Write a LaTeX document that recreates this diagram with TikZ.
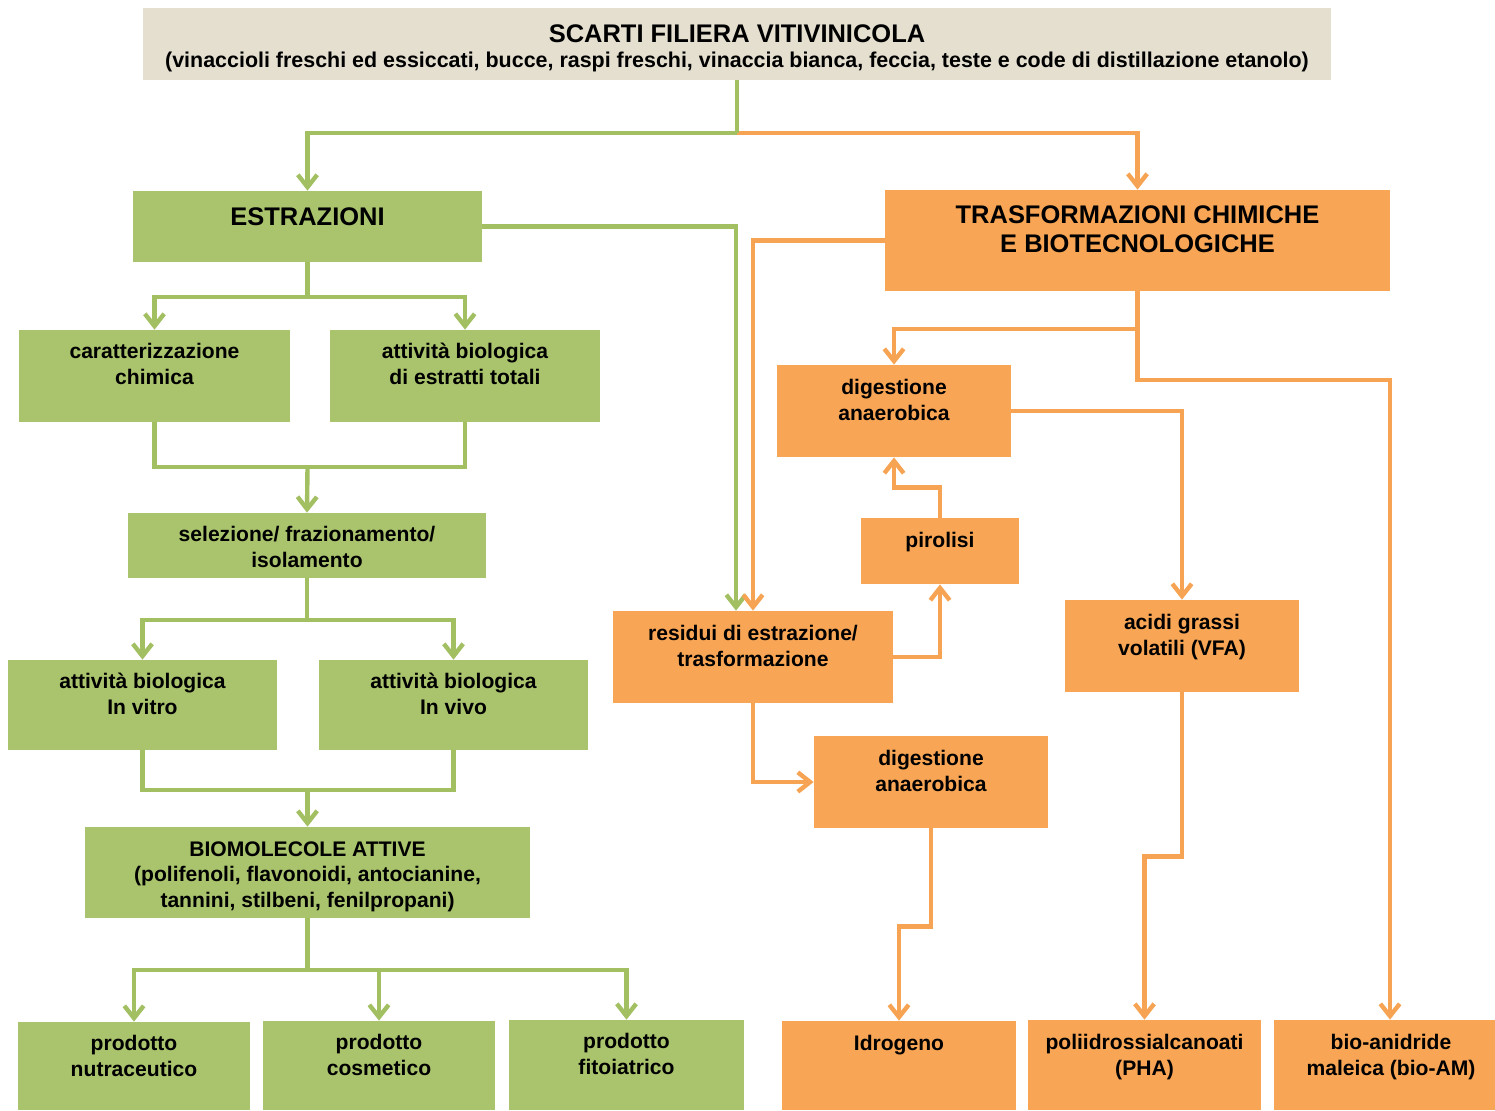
\documentclass[tikz,border=0pt]{standalone}
\usepackage{fontspec}
\setmainfont{Liberation Sans}
\usetikzlibrary{arrows.meta,fit,calc}
\definecolor{gfill}{HTML}{A9C46C}
\definecolor{ofill}{HTML}{F8A655}
\definecolor{bfill}{HTML}{E4DFCF}
\definecolor{gln}{HTML}{A2BF62}
\definecolor{oln}{HTML}{F6A453}
\tikzset{
  gbox/.style={fill=gfill, draw=none, inner sep=0pt},
  obox/.style={fill=ofill, draw=none, inner sep=0pt},
  bbox/.style={fill=bfill, draw=none, inner sep=0pt},
  txt/.style={anchor=north, align=center, inner sep=0pt, font=\bfseries\fontsize{12}{14.7}\selectfont, execute at begin node=\strut},
  htxt/.style={anchor=north, align=center, inner sep=0pt, font=\bfseries\fontsize{14.5}{16.6}\selectfont, execute at begin node=\strut},
  conn/.style={line width=2.5pt, miter limit=10, line join=miter},
  gline/.style={conn, draw=gln},
  oline/.style={conn, draw=oln},
  arr/.style={-{Straight Barb[length=7pt,width=11pt]}}
}
\begin{document}
\begin{tikzpicture}[x=0.02cm,y=-0.02cm]
\useasboundingbox (0,0) rectangle (1495,1110);
% boxes
\node[bbox, fit={(143,8) (1331,80)}] (top) {};
\node[gbox, fit={(133,191) (482,262)}] (estr) {};
\node[obox, fit={(885,190) (1390,291)}] (trasf) {};
\node[gbox, fit={(19,330) (290,422)}] (car) {};
\node[gbox, fit={(330,330) (600,422)}] (att) {};
\node[gbox, fit={(128,513) (486,578)}] (sel) {};
\node[gbox, fit={(8,660) (277,750)}] (vitro) {};
\node[gbox, fit={(319,660) (588,750)}] (vivo) {};
\node[gbox, fit={(85,827) (530,918)}] (bio) {};
\node[gbox, fit={(18,1022) (250,1110)}] (nut) {};
\node[gbox, fit={(263,1021) (495,1110)}] (cos) {};
\node[gbox, fit={(509,1020) (744,1110)}] (fit) {};
\node[obox, fit={(777,365) (1011,457)}] (dig1) {};
\node[obox, fit={(861,518) (1019,584)}] (pir) {};
\node[obox, fit={(613,611) (893,703)}] (res) {};
\node[obox, fit={(814,736) (1048,828)}] (dig2) {};
\node[obox, fit={(1065,600) (1299,692)}] (acidi) {};
\node[obox, fit={(782,1021) (1016,1110)}] (idro) {};
\node[obox, fit={(1028,1020) (1261,1110)}] (pha) {};
\node[obox, fit={(1274,1020) (1495,1110)}] (bioam) {};
% texts
\node[anchor=base, inner sep=0pt, font=\bfseries\fontsize{14.5}{16.4}\selectfont] (top-t1) at (737,42) {SCARTI FILIERA VITIVINICOLA};
\node[anchor=base, inner sep=0pt, font=\bfseries\fontsize{12.2}{14}\selectfont] (top-t2) at (737,67) {(vinaccioli freschi ed essiccati, bucce, raspi freschi, vinaccia bianca, feccia, teste e code di distillazione etanolo)};
\node[htxt] (estr-t) at (307.5,205) {ESTRAZIONI};
\node[htxt] (trasf-t) at (1137.5,205) {TRASFORMAZIONI CHIMICHE\\E BIOTECNOLOGICHE};
\node[txt] (car-t) at (154.5,343) {caratterizzazione\\chimica};
\node[txt] (att-t) at (465,343) {attività biologica\\di estratti totali};
\node[txt] (sel-t) at (307,526) {selezione/ frazionamento/\\isolamento};
\node[txt] (vitro-t) at (142.5,673) {attività biologica\\In vitro};
\node[txt] (vivo-t) at (453.5,673) {attività biologica\\In vivo};
\node[txt] (bio-t) at (307.5,841) {BIOMOLECOLE ATTIVE\\(polifenoli, flavonoidi, antocianine,\\tannini, stilbeni, fenilpropani)};
\node[txt] (nut-t) at (134,1035) {prodotto\\nutraceutico};
\node[txt] (cos-t) at (379,1034) {prodotto\\cosmetico};
\node[txt] (fit-t) at (626.5,1033) {prodotto\\fitoiatrico};
\node[txt] (dig1-t) at (894,379) {digestione\\anaerobica};
\node[txt] (pir-t) at (940,529) {pirolisi};
\node[txt] (res-t) at (753,625) {residui di estrazione/\\trasformazione};
\node[txt] (dig2-t) at (931,750) {digestione\\anaerobica};
\node[txt] (acidi-t) at (1182,614) {acidi grassi\\volatili (VFA)};
\node[txt] (idro-t) at (899,1032) {Idrogeno};
\node[txt] (pha-t) at (1144.5,1034) {poliidrossialcanoati\\(PHA)};
\node[txt] (bioam-t) at (1391,1034) {bio-anidride\\maleica (bio-AM)};
% junctions
\coordinate (j5) at (737,133);
\coordinate (j0) at (307.5,297);
\coordinate (j1) at (307.5,467);
\coordinate (j2) at (307,620);
\coordinate (j3) at (307.5,790);
\coordinate (j4) at (307.5,970);
\coordinate (j6) at (1137.5,329);
\coordinate (j7) at (1390,380);
% green connectors
\draw[oline, arr] (j5) -| (trasf.north);
\draw[gline] (top.south) -- (j5);
\draw[gline, arr] (j5) -| (estr.north);
\draw[gline, arr] (estr.east) -| ([xshift=-0.34cm]res.north);
\draw[gline] (estr.south) -- (j0);
\draw[gline, arr] (j0) -| (car.north);
\draw[gline, arr] (j0) -| (att.north);
\draw[gline] (car.south) |- (j1) -| (att.south);
\draw[gline, arr] (j1) -- (sel.north);
\draw[gline] (sel.south) -- (j2);
\draw[gline, arr] (j2) -| (vitro.north);
\draw[gline, arr] (j2) -| (vivo.north);
\draw[gline] (vitro.south) |- (j3) -| (vivo.south);
\draw[gline, arr] (j3) -- (bio.north);
\draw[gline] (bio.south) -- (j4);
\draw[gline, arr] (j4) -| (nut.north);
\draw[gline, arr] (j4) -| (cos.north);
\draw[gline, arr] (j4) -| (fit.north);
% orange connectors
\draw[oline, arr] (trasf.west) -| (res.north);
\draw[oline] (trasf.south) -- (j6);
\draw[oline, arr] (j6) -| (dig1.north);
\draw[oline, arr] (j6) |- (j7) -- (bioam.north -| j7);
\draw[oline, arr] (dig1.east) -| (acidi.north);
\draw[oline, arr] (pir.north) -- ++(0,-30) -| (dig1.south);
\draw[oline, arr] (res.east) -| (pir.south);
\draw[oline, arr] (res.south) |- (dig2.west);
\draw[oline, arr] (dig2.south) -- ++(0,98) -| (idro.north);
\draw[oline, arr] (acidi.south) -- ++(0,164) -| (pha.north);
\end{tikzpicture}
\end{document}
